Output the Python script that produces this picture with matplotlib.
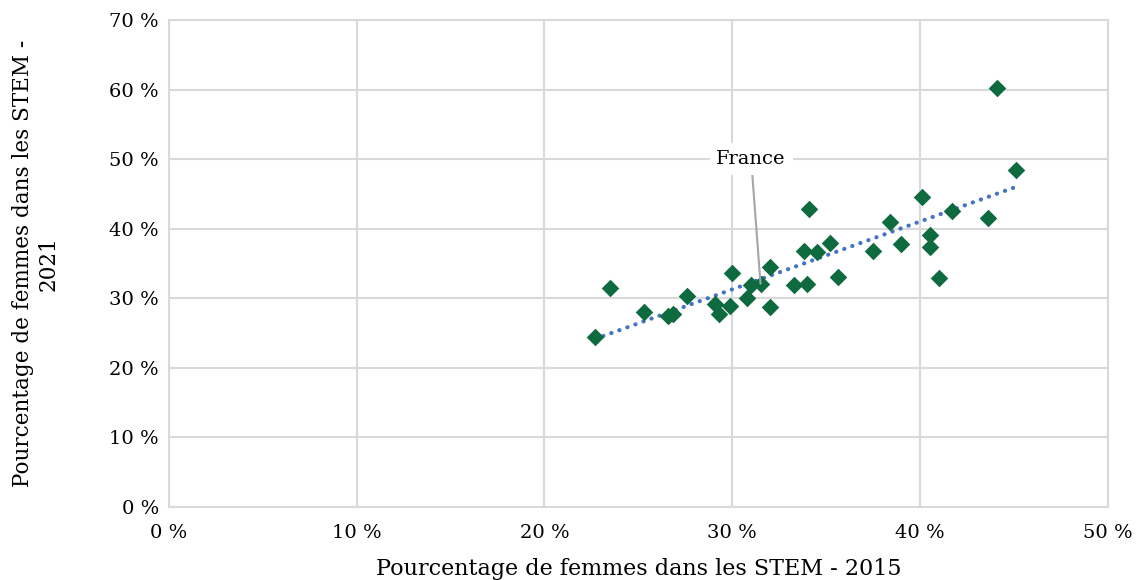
import matplotlib.pyplot as plt
import numpy as np

plt.rcParams['font.family'] = ['DejaVu Serif']

# part des femmes dans les STEM (%), 2015 vs 2021
x2015 = [22.7, 23.5, 25.3, 26.6, 26.85, 27.6, 29.1, 29.3, 29.9, 30.0, 30.8, 31.0, 31.5,
         32.0, 32.0, 33.3, 34.0, 34.1, 33.8, 34.5, 35.2, 35.6, 37.5, 38.4, 39.0, 40.1,
         40.5, 40.5, 41.0, 41.7, 43.6, 45.1, 44.1]
y2021 = [24.4, 31.5, 28.0, 27.4, 27.8, 30.3, 29.2, 27.7, 28.9, 33.7, 30.0, 31.9, 32.1,
         34.5, 28.7, 31.9, 32.05, 42.8, 36.8, 36.7, 37.9, 33.0, 36.8, 41.0, 37.8, 44.5,
         39.1, 37.3, 32.9, 42.5, 41.5, 48.4, 60.2]
france = (31.5, 32.1)

xticks = [0, 10, 20, 30, 40, 50]
yticks = [0, 10, 20, 30, 40, 50, 60, 70]

fig = plt.figure(figsize=(11.4, 5.8), dpi=100)
ax = fig.add_axes([0.148, 0.126, 0.824, 0.8395])

ax.scatter(x2015, y2021, marker='D', s=80, color='#0E6B3F', zorder=3, linewidths=0)

# courbe de tendance linéaire
a, b = np.polyfit(x2015, y2021, 1)
xt = np.array([min(x2015), max(x2015)])
ax.plot(xt, a * xt + b, color='#4472C4', linestyle=(0, (0.05, 2.0)), linewidth=3,
        dash_capstyle='round', zorder=2)

ax.annotate('France', xy=france, xytext=(31.0, 50.0), ha='center', va='center',
            fontsize=14, zorder=4,
            bbox=dict(boxstyle='square,pad=0.35', fc='white', ec='none'),
            arrowprops=dict(arrowstyle='-', color='#A6A6A6', lw=1.5,
                            shrinkA=0, shrinkB=0))

ax.set_xlim(0, 50)
ax.set_ylim(0, 70)
ax.set_xticks(xticks)
ax.set_yticks(yticks)
ax.set_xticklabels([f'{t} %' for t in xticks])
ax.set_yticklabels([f'{t} %' for t in yticks])
ax.tick_params(length=0, labelsize=14)
ax.tick_params(axis='x', pad=12)
ax.tick_params(axis='y', pad=7)
ax.grid(True, color='#D9D9D9', linewidth=1.5)
ax.set_axisbelow(True)
for s in ax.spines.values():
    s.set_color('#D9D9D9')
    s.set_linewidth(1.5)

ax.set_xlabel('Pourcentage de femmes dans les STEM - 2015', fontsize=16, labelpad=12)
ax.set_ylabel('Pourcentage de femmes dans les STEM -\n2021', fontsize=15.5, labelpad=36)

fig.savefig('out.png', dpi=100)
